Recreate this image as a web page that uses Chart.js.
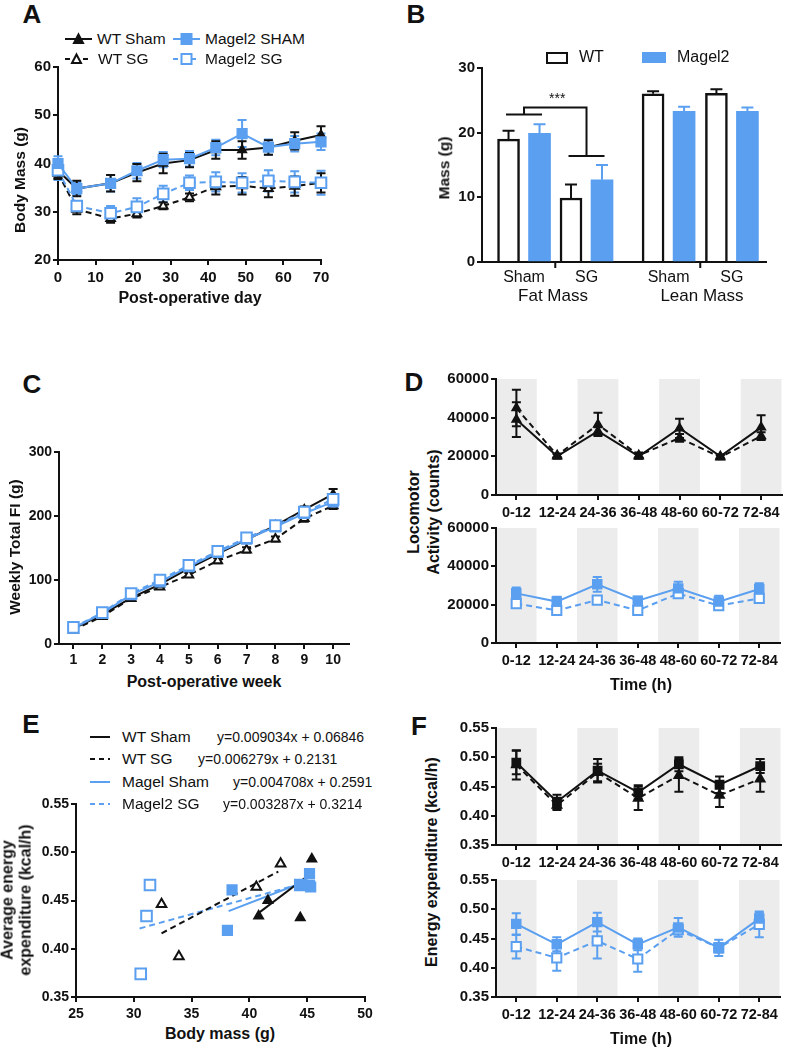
<!DOCTYPE html>
<html>
<head>
<meta charset="utf-8">
<script src="https://cdn.jsdelivr.net/npm/chart.js@4.4.0/dist/chart.umd.min.js"></script>
<style>
body { margin: 0; background: #fff; }
#fig { position: relative; width: 788px; height: 1049px; overflow: hidden; font-family: "Liberation Sans", Arial, sans-serif; color: #111; }
#fig canvas { position: absolute; }
.t { position: absolute; white-space: nowrap; line-height: 1; text-align: center; }
</style>
</head>
<body>
<div id="fig"></div>
<script>
var FF = '"Liberation Sans", Arial, sans-serif';
var BLUE = '#5a9ff0', BLACK = '#111';

// ---- A: body mass
var daysA = [0, 5, 14, 21, 28, 35, 42, 49, 56, 63, 70];
var aTicksX = [0, 10, 20, 30, 40, 50, 60, 70];
var aTicksY = [20, 30, 40, 50, 60];
var aWtSham = [38.5, 34.8, 35.9, 38.1, 40.0, 40.7, 42.8, 42.8, 43.3, 44.7, 45.9];
var aWtShamErr = [1.5, 1.6, 1.7, 1.8, 2.0, 1.5, 1.8, 1.8, 1.5, 1.8, 1.8];
var aMSham = [40.0, 34.8, 35.9, 38.5, 40.8, 41.0, 43.3, 46.2, 43.4, 44.1, 44.5];
var aMShamErr = [1.5, 1.3, 1.7, 1.6, 1.6, 1.6, 1.6, 2.8, 1.6, 1.6, 1.7];
var aWtSG = [38.0, 30.5, 28.6, 29.6, 31.2, 33.0, 35.2, 35.4, 34.8, 35.3, 36.0];
var aWtSGErr = [1.2, 1.0, 0.9, 0.8, 0.7, 0.8, 1.6, 1.8, 1.8, 2.0, 2.0];
var aMSG = [38.6, 31.2, 29.7, 31.0, 33.7, 36.0, 36.2, 36.0, 36.4, 36.2, 36.0];
var aMSGErr = [2.0, 1.0, 1.5, 1.8, 1.7, 1.5, 2.0, 2.0, 2.2, 2.2, 2.5];

// ---- B: fat / lean mass
var bGroups = ['Sham', 'SG', 'Sham', 'SG'];
var bTicksY = [0, 10, 20, 30];
var bWt = [19.0, 9.9, 26.0, 26.1];
var bWtErr = [1.3, 2.1, 0.4, 0.6];
var bM = [19.9, 12.7, 23.3, 23.3];
var bMErr = [1.4, 2.3, 0.7, 0.6];

// ---- C: weekly food intake
var weeksC = [1, 2, 3, 4, 5, 6, 7, 8, 9, 10];
var cTicksY = [0, 100, 200, 300];
var cWtSham = [24, 46, 72, 93, 118, 141, 163, 185, 210, 234];
var cWtShamErr = [2, 3, 3, 3, 3, 4, 4, 4, 5, 8];
var cWtSG = [22, 43, 71, 89, 108, 130, 147, 164, 196, 216];
var cWtSGErr = [2, 2, 3, 3, 3, 4, 4, 4, 5, 5];
var cMSham = [25, 48, 77, 97, 121, 143, 164, 183, 204, 222];
var cMShamErr = [2, 2, 3, 3, 3, 3, 4, 4, 4, 5];
var cMSG = [26, 49, 79, 100, 123, 145, 166, 185, 206, 226];
var cMSGErr = [2, 2, 3, 3, 3, 3, 4, 4, 4, 5];

// ---- D / F: 12 h bins
var timeBins = ['0-12', '12-24', '24-36', '36-48', '48-60', '60-72', '72-84'];
var darkPhase = [true, false, true, false, true, false, true];
var dTicksY = [0, 20000, 40000, 60000];
var dWtSham = [39000, 20000, 33000, 20000, 34500, 20000, 35000];
var dWtShamErr = [9000, 1200, 2000, 1200, 5000, 1000, 6200];
var dWtSG = [45000, 20500, 36500, 20500, 29500, 19500, 30500];
var dWtSGErr = [9500, 1000, 6000, 1500, 2000, 1000, 2000];
var dMSham = [25900, 21600, 30600, 22100, 28500, 21600, 28200];
var dMShamErr = [3000, 2500, 3800, 2000, 3500, 3000, 3000];
var dMSG = [20500, 17000, 22400, 17000, 25800, 19500, 23300];
var dMSGErr = [1500, 1500, 2000, 1800, 2000, 1500, 2000];

var fTicksY = [0.35, 0.40, 0.45, 0.50, 0.55];
var fWtSham = [0.491, 0.424, 0.477, 0.440, 0.488, 0.453, 0.485];
var fWtShamErr = [0.020, 0.012, 0.020, 0.012, 0.012, 0.014, 0.012];
var fWtSG = [0.487, 0.418, 0.474, 0.430, 0.469, 0.435, 0.463];
var fWtSGErr = [0.025, 0.008, 0.015, 0.020, 0.028, 0.020, 0.022];
var fMSham = [0.475, 0.440, 0.478, 0.440, 0.469, 0.434, 0.484];
var fMShamErr = [0.018, 0.012, 0.016, 0.010, 0.016, 0.008, 0.010];
var fMSG = [0.436, 0.417, 0.446, 0.415, 0.465, 0.434, 0.474];
var fMSGErr = [0.020, 0.022, 0.030, 0.022, 0.008, 0.014, 0.022];

// ---- E: energy expenditure vs body mass
var eTicksX = [25, 30, 35, 40, 45, 50];
var eTicksY = [0.35, 0.40, 0.45, 0.50, 0.55];
var eWtSham = [[40.8, 0.434], [41.6, 0.450], [44.4, 0.432], [45.4, 0.493]];
var eWtSG = [[32.4, 0.446], [33.9, 0.392], [40.6, 0.464], [42.7, 0.488]];
var eMSham = [[38.5, 0.461], [38.1, 0.419], [44.5, 0.466], [45.2, 0.478], [45.2, 0.466], [45.3, 0.464]];
var eMSG = [[31.4, 0.466], [31.1, 0.434], [30.6, 0.374], [44.4, 0.466]];
var eFitWtSham = [[40.9, 0.438], [45.2, 0.477]];
var eFitWtSG = [[32.4, 0.416], [42.5, 0.480]];
var eFitMSham = [[38.2, 0.439], [45.1, 0.471]];
var eFitMSG = [[30.5, 0.421], [45.0, 0.469]];
var eNames = ['WT Sham', 'WT SG', 'Magel Sham', 'Magel2 SG'];
var eEquations = ['y=0.009034x + 0.06846', 'y=0.006279x + 0.2131', 'y=0.004708x + 0.2591', 'y=0.003287x + 0.3214'];

var fig = document.getElementById('fig');

// error bars drawn from the dataset's own parsed values through the y scale
var errorBars = {
  id: 'errorBars',
  beforeDatasetsDraw: function (chart) {
    var ctx = chart.ctx, ys = chart.scales.y;
    chart.data.datasets.forEach(function (ds, i) {
      if (!ds.errors) return;
      var meta = chart.getDatasetMeta(i);
      var cap = ds.capWidth || 9;
      ctx.save();
      ctx.strokeStyle = ds.borderColor;
      ctx.lineWidth = 2;
      ctx.setLineDash([]);
      meta.data.forEach(function (el, j) {
        var v = meta.controller.getParsed(j).y, e = ds.errors[j];
        var yTop = ys.getPixelForValue(v + e);
        var yBot = ys.getPixelForValue(ds.upOnly ? v : v - e);
        ctx.beginPath();
        ctx.moveTo(el.x, yTop); ctx.lineTo(el.x, yBot);
        ctx.moveTo(el.x - cap / 2, yTop); ctx.lineTo(el.x + cap / 2, yTop);
        if (!ds.upOnly) { ctx.moveTo(el.x - cap / 2, yBot); ctx.lineTo(el.x + cap / 2, yBot); }
        ctx.stroke();
      });
      ctx.restore();
    });
  }
};

var nightBands = {
  id: 'nightBands',
  beforeDraw: function (chart) {
    var xs = chart.scales.x, a = chart.chartArea, ctx = chart.ctx;
    var w = (xs.right - xs.left) / timeBins.length;
    ctx.save();
    ctx.fillStyle = '#ececec';
    darkPhase.forEach(function (dark, i) {
      if (!dark) return;
      var cx = xs.getPixelForValue(i);
      var l = Math.max(cx - w / 2, a.left + 1);
      ctx.fillRect(l, a.top, cx + w / 2 - l, a.bottom - a.top - 1);
    });
    ctx.restore();
  }
};

function addText(s, x, y, size, opt) {
  opt = opt || {};
  var d = document.createElement('div');
  d.className = 't';
  d.style.left = x + 'px';
  d.style.top = y + 'px';
  d.style.fontSize = size + 'px';
  d.style.fontWeight = opt.bold ? 'bold' : 'normal';
  var tf = opt.left ? 'translate(0,-50%)' : 'translate(-50%,-50%)';
  if (opt.rot) tf += ' rotate(-90deg)';
  d.style.transform = tf;
  if (opt.lh) d.style.lineHeight = opt.lh;
  d.innerHTML = s;
  fig.appendChild(d);
}

function legendSample(x, y, w, color, dashed, marker, filled) {
  var c = w / 2, fill = filled ? color : '#fff';
  var s = '<svg width="' + w + '" height="16" style="position:absolute;left:' + x + 'px;top:' + (y - 8) + 'px;overflow:visible">';
  s += '<line x1="0" y1="8" x2="' + w + '" y2="8" stroke="' + color + '" stroke-width="2"' + (dashed ? ' stroke-dasharray="5,4"' : '') + '/>';
  if (marker === 'tri') s += '<polygon points="' + c + ',3.5 ' + (c + 4.5) + ',12 ' + (c - 4.5) + ',12" fill="' + fill + '" stroke="' + color + '" stroke-width="2"/>';
  if (marker === 'sq') s += '<rect x="' + (c - 5) + '" y="3" width="10" height="10" fill="' + fill + '" stroke="' + color + '" stroke-width="2"/>';
  s += '</svg>';
  fig.insertAdjacentHTML('beforeend', s);
}

function axisBase(size, bold) {
  return {
    border: { color: BLACK, width: 2 },
    grid: { drawOnChartArea: false, color: BLACK, lineWidth: 2, tickLength: 5 },
    ticks: { color: BLACK, font: { family: FF, size: size, weight: bold === false ? 'normal' : 'bold' }, padding: 2, maxRotation: 0, autoSkip: false }
  };
}

function linAxis(min, max, ticks, size, fmt) {
  var a = axisBase(size);
  a.type = 'linear';
  a.min = min; a.max = max;
  a.afterBuildTicks = function (s) { s.ticks = ticks.map(function (v) { return { value: v }; }); };
  if (fmt) a.ticks.callback = fmt;
  return a;
}

function catAxis(size) {
  var a = axisBase(size);
  a.type = 'category';
  a.offset = true;
  a.grid.offset = false;
  a.ticks.padding = 4;
  return a;
}

function lineDs(label, data, errs, color, dashed, style, filled, radius, order) {
  return {
    label: label, data: data, errors: errs, order: order,
    borderColor: color, backgroundColor: color, borderWidth: 2,
    borderDash: dashed ? [6, 4] : [],
    pointStyle: style, pointRadius: radius,
    pointBackgroundColor: filled ? color : '#fff', pointBorderColor: color, pointBorderWidth: 2,
    tension: 0, clip: false
  };
}

function xy(xs, ys) { return xs.map(function (x, i) { return { x: x, y: ys[i] }; }); }
function pairs(p) { return p.map(function (q) { return { x: q[0], y: q[1] }; }); }

function makePanel(rect, yW, xH, padR, cfg) {
  var padT = 12;
  var w = rect.r - rect.l + yW + padR, h = rect.b - rect.t + padT + xH;
  var c = document.createElement('canvas');
  c.width = w; c.height = h;
  c.style.left = (rect.l - yW) + 'px';
  c.style.top = (rect.t - padT) + 'px';
  c.style.width = w + 'px';
  c.style.height = h + 'px';
  fig.appendChild(c);
  var o = cfg.options;
  o.responsive = false;
  o.animation = false;
  o.devicePixelRatio = 1;
  o.layout = { padding: { top: padT, right: padR, left: 0, bottom: 0 } };
  o.plugins = Object.assign({ legend: { display: false }, tooltip: { enabled: false } }, o.plugins || {});
  o.scales.x.afterFit = function (s) { s.height = xH; };
  o.scales.y.afterFit = function (s) { s.width = yW; };
  cfg.plugins = (cfg.plugins || []).concat([errorBars]);
  return new Chart(c, cfg);
}

// ---------- A ----------
makePanel({ l: 58, t: 67, r: 321, b: 260 }, 44, 30, 14, {
  type: 'line',
  data: {
    datasets: [
      lineDs('Magel2 SHAM', xy(daysA, aMSham), aMShamErr, BLUE, false, 'rect', true, 6.5, 1),
      lineDs('Magel2 SG', xy(daysA, aMSG), aMSGErr, BLUE, true, 'rect', false, 7.5, 2),
      lineDs('WT Sham', xy(daysA, aWtSham), aWtShamErr, BLACK, false, 'triangle', true, 4.5, 3),
      lineDs('WT SG', xy(daysA, aWtSG), aWtSGErr, BLACK, true, 'triangle', false, 5, 4)
    ]
  },
  options: {
    scales: {
      x: (function () { var a = linAxis(0, 70, aTicksX, 15); a.ticks.padding = 4; return a; })(),
      y: linAxis(20, 60, aTicksY, 15)
    }
  }
});

// ---------- B ----------
var groupPos = [1.48, 3.68, 6.57, 8.8];
var bracket = { sham: 22.8, top: 23.9, sg: 16.4 };
var bExtras = {
  id: 'bExtras',
  afterDatasetsDraw: function (chart) {
    var xs = chart.scales.x, ys = chart.scales.y, ctx = chart.ctx;
    ctx.save();
    ctx.strokeStyle = BLACK;
    ctx.lineWidth = 2;
    // divider ticks between Sham / SG
    [[0, 1], [2, 3]].forEach(function (p) {
      var x = xs.getPixelForValue((groupPos[p[0]] + groupPos[p[1]]) / 2);
      ctx.beginPath(); ctx.moveTo(x, ys.bottom); ctx.lineTo(x, ys.bottom + 6); ctx.stroke();
    });
    // significance bracket
    var g0 = xs.getPixelForValue(groupPos[0]), g1 = xs.getPixelForValue(groupPos[1]);
    var yS = ys.getPixelForValue(bracket.sham), yT = ys.getPixelForValue(bracket.top), yG = ys.getPixelForValue(bracket.sg);
    ctx.beginPath();
    ctx.moveTo(g0 - 18, yS); ctx.lineTo(g0 + 18, yS);
    ctx.moveTo(g0, yS); ctx.lineTo(g0, yT); ctx.lineTo(g1, yT); ctx.lineTo(g1, yG);
    ctx.moveTo(g1 - 18, yG); ctx.lineTo(g1 + 18, yG);
    ctx.stroke();
    ctx.fillStyle = BLACK;
    ctx.font = '14px ' + FF;
    ctx.textAlign = 'center';
    ctx.textBaseline = 'bottom';
    ctx.fillText('***', (g0 + g1) / 2 + 2, yT - 1);
    ctx.restore();
  }
};
makePanel({ l: 482, t: 68, r: 766, b: 262 }, 40, 26, 10, {
  type: 'bar',
  data: {
    datasets: [
      { label: 'WT', data: xy(groupPos, bWt), errors: bWtErr, upOnly: true, capWidth: 12,
        backgroundColor: '#fff', borderColor: BLACK, borderWidth: 2.5, barThickness: 31, maxBarThickness: 22 },
      { label: 'Magel2', data: xy(groupPos, bM), errors: bMErr, upOnly: true, capWidth: 12,
        backgroundColor: BLUE, borderColor: BLUE, borderWidth: 0, barThickness: 31, maxBarThickness: 22 }
    ]
  },
  options: {
    scales: {
      x: (function () {
        var a = linAxis(0, 10, groupPos, 16);
        a.offset = false;
        a.grid = { display: false, drawTicks: false };
        a.ticks.font.weight = 'normal';
        a.ticks.padding = 6;
        a.ticks.callback = function (v, i) { return bGroups[i]; };
        return a;
      })(),
      y: linAxis(0, 30, bTicksY, 15)
    }
  },
  plugins: [bExtras]
});

// ---------- C ----------
makePanel({ l: 59, t: 452, r: 349, b: 644 }, 44, 28, 12, {
  type: 'line',
  data: {
    datasets: [
      lineDs('Magel2 SG', xy(weeksC, cMSG), cMSGErr, BLUE, true, 'rect', false, 7.5, 1),
      lineDs('Magel2 Sham', xy(weeksC, cMSham), cMShamErr, BLUE, false, 'rect', true, 6.5, 2),
      lineDs('WT Sham', xy(weeksC, cWtSham), cWtShamErr, BLACK, false, 'triangle', true, 4.5, 3),
      lineDs('WT SG', xy(weeksC, cWtSG), cWtSGErr, BLACK, true, 'triangle', false, 5, 4)
    ]
  },
  options: {
    scales: {
      x: (function () { var a = linAxis(0.5, 10.55, weeksC, 14); a.ticks.padding = 3; return a; })(),
      y: linAxis(0, 300, cTicksY, 14)
    }
  }
});

// ---------- D ----------
function binPanel(rect, yTicks, yMin, yMax, fmt, sets) {
  return makePanel(rect, 52, 28, 1, {
    type: 'line',
    data: { labels: timeBins, datasets: sets },
    options: { scales: { x: catAxis(14.5), y: linAxis(yMin, yMax, yTicks, 15, fmt) } },
    plugins: [nightBands]
  });
}
var plainNum = function (v) { return String(v); };
var twoDec = function (v) { return v.toFixed(2); };

binPanel({ l: 496, t: 379, r: 787, b: 495 }, dTicksY, 0, 60000, plainNum, [
  lineDs('WT Sham', dWtSham, dWtShamErr, BLACK, false, 'triangle', true, 4.5, 1),
  lineDs('WT SG', dWtSG, dWtSGErr, BLACK, true, 'triangle', true, 4.5, 2)
]);
binPanel({ l: 496, t: 528, r: 787, b: 643 }, dTicksY, 0, 60000, plainNum, [
  lineDs('Magel2 Sham', dMSham, dMShamErr, BLUE, false, 'rect', true, 6, 1),
  lineDs('Magel2 SG', dMSG, dMSGErr, BLUE, true, 'rect', false, 6.5, 2)
]);

// ---------- F ----------
binPanel({ l: 496, t: 728, r: 787, b: 845 }, fTicksY, 0.35, 0.55, twoDec, [
  lineDs('WT Sham', fWtSham, fWtShamErr, BLACK, false, 'rect', true, 5.5, 1),
  lineDs('WT SG', fWtSG, fWtSGErr, BLACK, true, 'triangle', true, 5, 2)
]);
binPanel({ l: 496, t: 880, r: 787, b: 997 }, fTicksY, 0.35, 0.55, twoDec, [
  lineDs('Magel2 Sham', fMSham, fMShamErr, BLUE, false, 'rect', true, 6, 1),
  lineDs('Magel2 SG', fMSG, fMSGErr, BLUE, true, 'rect', false, 6.5, 2)
]);

// ---------- E ----------
function pts(label, data, color, style, filled, radius) {
  return { type: 'scatter', label: label, data: pairs(data), pointStyle: style, pointRadius: radius,
    pointBackgroundColor: filled ? color : '#fff', pointBorderColor: color, pointBorderWidth: 2, clip: false, order: 1 };
}
function fit(label, data, color, dashed) {
  return { type: 'line', label: label, data: pairs(data), borderColor: color, borderWidth: 2,
    borderDash: dashed ? [6, 4] : [], pointRadius: 0, showLine: true, order: 2 };
}
makePanel({ l: 76, t: 804, r: 365, b: 997 }, 46, 26, 14, {
  type: 'scatter',
  data: {
    datasets: [
      pts('WT Sham', eWtSham, BLACK, 'triangle', true, 5),
      pts('WT SG', eWtSG, BLACK, 'triangle', false, 5.5),
      pts('Magel Sham', eMSham, BLUE, 'rect', true, 6.5),
      pts('Magel2 SG', eMSG, BLUE, 'rect', false, 7.5),
      fit('WT Sham fit', eFitWtSham, BLACK, false),
      fit('WT SG fit', eFitWtSG, BLACK, true),
      fit('Magel Sham fit', eFitMSham, BLUE, false),
      fit('Magel2 SG fit', eFitMSG, BLUE, true)
    ]
  },
  options: {
    scales: {
      x: (function () { var a = linAxis(25, 50, eTicksX, 14); a.ticks.padding = 4; return a; })(),
      y: linAxis(0.35, 0.55, eTicksY, 14, twoDec)
    }
  }
});

// ---------- text: panel letters, titles, legends ----------
addText('A', 32, 14, 26, { bold: true });
addText('B', 416, 14, 26, { bold: true });
addText('C', 32, 384, 26, { bold: true });
addText('D', 414, 382, 26, { bold: true });
addText('E', 31, 724, 26, { bold: true });
addText('F', 419, 726, 26, { bold: true });

addText('Body Mass (g)', 20, 180, 15.5, { bold: true, rot: true });
addText('Post-operative day', 190, 298, 16, { bold: true });
addText('Mass (g)', 444, 168, 15.5, { bold: true, rot: true });
addText('Fat Mass', 553, 295, 17);
addText('Lean Mass', 702, 295, 17);
addText('Weekly Total FI (g)', 15, 547, 15.5, { bold: true, rot: true });
addText('Post-operative week', 204, 682, 16, { bold: true });
addText('Locomotor<br>Activity (counts)', 424, 512, 16, { bold: true, rot: true, lh: '1.25' });
addText('Time (h)', 641, 685, 16, { bold: true });
addText('Average energy<br>expenditure (kcal/h)', 17, 900, 16, { bold: true, rot: true, lh: '1.15' });
addText('Body mass (g)', 220, 1034, 16, { bold: true });
addText('Energy expenditure (kcal/h)', 432, 862, 16, { bold: true, rot: true });
addText('Time (h)', 641, 1039, 16, { bold: true });

// A legend
legendSample(65, 39, 27, BLACK, false, 'tri', true);
addText('WT Sham', 97, 39, 15.5, { left: true });
legendSample(173, 39, 27, BLUE, false, 'sq', true);
addText('Magel2 SHAM', 205, 39, 15.5, { left: true });
legendSample(65, 59, 23, BLACK, true, 'tri', false);
addText('WT SG', 98, 59, 15.5, { left: true });
legendSample(173, 59, 27, BLUE, true, 'sq', false);
addText('Magel2 SG', 205, 59, 15.5, { left: true });

// B legend
fig.insertAdjacentHTML('beforeend', '<div style="position:absolute;left:546px;top:52px;width:18px;height:8px;border:2.5px solid #111;background:#fff"></div>');
addText('WT', 579, 57, 16, { left: true });
fig.insertAdjacentHTML('beforeend', '<div style="position:absolute;left:642px;top:52px;width:24px;height:11px;background:' + BLUE + '"></div>');
addText('Magel2', 677, 57, 16, { left: true });

// E legend
var eRows = [737, 759, 782, 804];
var eEqX = [217, 198, 233, 223];
var eStyle = [[BLACK, false], [BLACK, true], [BLUE, false], [BLUE, true]];
eNames.forEach(function (n, i) {
  legendSample(90, eRows[i], 20, eStyle[i][0], eStyle[i][1], null, false);
  addText(n, 122, eRows[i], 15.5, { left: true });
  addText(eEquations[i], eEqX[i], eRows[i], 14, { left: true });
});
</script>
</body>
</html>
